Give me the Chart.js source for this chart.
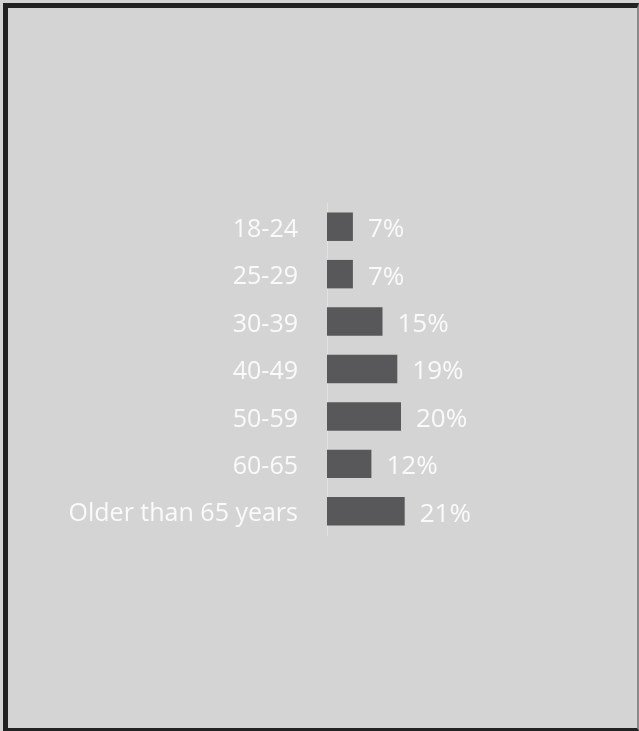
<!DOCTYPE html>
<html>
<head>
<meta charset="utf-8">
<script src="https://cdn.jsdelivr.net/npm/chart.js@4.4.0/dist/chart.umd.min.js"></script>
<style>
  html, body { margin: 0; padding: 0; background: #d4d4d4; }
  body { width: 639px; height: 731px; position: relative; overflow: hidden; }
  .frame {
    position: absolute; left: 3px; top: 3px; width: 629px; height: 720px;
    border-left: 5px solid #222; border-top: 5px solid #222;
    border-bottom: 3px solid #222; border-right: 2px solid #8a8a8a;
  }
  #wrap { position: absolute; left: 0; top: 0; width: 639px; height: 731px; }
</style>
</head>
<body>
<div class="frame"></div>
<div id="wrap"><canvas id="myChart" width="639" height="731"></canvas></div>
<script>
// ===== Data =====
const ageGroups = ["18-24", "25-29", "30-39", "40-49", "50-59", "60-65", "Older than 65 years"];
const shares = [7, 7, 15, 19, 20, 12, 21];           // percent of respondents
const shareLabels = shares.map(v => v + "%");

const fontFamily = "'Open Sans', 'Noto Sans', sans-serif";

// ===== Value labels to the right of each bar =====
const valueLabels = {
  id: 'valueLabels',
  afterDatasetsDraw(chart) {
    const ctx = chart.ctx;
    const meta = chart.getDatasetMeta(0);
    ctx.save();
    ctx.fillStyle = '#fafafa';
    ctx.font = '26px ' + fontFamily;
    ctx.textAlign = 'left';
    ctx.textBaseline = 'middle';
    meta.data.forEach((bar, i) => {
      ctx.fillText(shareLabels[i], bar.x + 15, bar.y + 3);
    });
    ctx.restore();
  }
};

let ctx = document.getElementById('myChart').getContext('2d');

let chart = new Chart(ctx, {
  type: 'bar',
  data: {
    labels: ageGroups,
    datasets: [{
      data: shares,
      backgroundColor: '#58585a',
      borderWidth: 0,
      categoryPercentage: 1,
      barPercentage: 0.6
    }]
  },
  options: {
    indexAxis: 'y',
    responsive: false,
    animation: false,
    layout: { padding: { left: 0, top: 203, right: 164, bottom: 196 } },
    plugins: {
      legend: { display: false },
      tooltip: { enabled: false }
    },
    scales: {
      x: { display: false, min: 0, max: 40 },
      y: {
        afterFit(scale) { scale.width = 327; },
        grid: { display: false, drawTicks: false },
        border: { display: true, color: '#e2e2e2', width: 1 },
        ticks: {
          color: '#fafafa',
          padding: 29,
          labelOffset: 3,
          font: { family: fontFamily, size: 25 }
        }
      }
    }
  },
  plugins: [valueLabels]
});
</script>
</body>
</html>
